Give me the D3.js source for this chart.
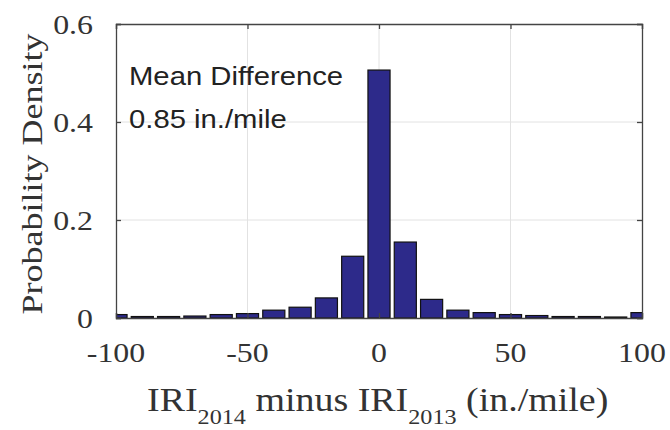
<!DOCTYPE html>
<html>
<head>
<meta charset="utf-8">
<script src="https://cdn.jsdelivr.net/npm/d3@7"></script>
<style>
  body { margin: 0; background: #fff; }
  svg { display: block; }
</style>
</head>
<body>
<svg id="chart" width="670" height="430"></svg>
<script>
// bin centres (in./mile) and probability density
const binCenters = [-100, -90, -80, -70, -60, -50, -40, -30, -20, -10, 0, 10, 20, 30, 40, 50, 60, 70, 80, 90, 100]
const density = [0.007, 0.003, 0.003, 0.004, 0.007, 0.009, 0.016, 0.022, 0.041, 0.126, 0.506, 0.155, 0.038, 0.016, 0.011, 0.007, 0.005, 0.003, 0.003, 0.002, 0.011]
const xTicks = [-100, -50, 0, 50, 100]
const yTicks = [0, 0.2, 0.4, 0.6]
const noteLines = ["Mean Difference", "0.85 in./mile"]

const binWidth = 10
const svg = d3.select("#chart")
const plotL = 116, plotR = 642, plotT = 24, plotB = 318
const stretch = 1.18

const x = d3.scaleLinear().domain([-100, 100]).range([plotL, plotR])
const y = d3.scaleLinear().domain([0, 0.6]).range([plotB, plotT])

// widen glyphs a bit like the source picture
const widen = (sel, k) => sel.each(function () {
  const w = this.getComputedTextLength()
  d3.select(this).attr("textLength", w * k).attr("lengthAdjust", "spacingAndGlyphs")
})

svg.append("defs").append("clipPath").attr("id", "plot-clip")
  .append("rect").attr("x", plotL).attr("y", plotT).attr("width", plotR - plotL).attr("height", plotB - plotT)

// grid
const grid = svg.append("g").attr("stroke", "#e2e2e2").attr("stroke-width", 1)
grid.selectAll(".gx").data(xTicks.slice(1, -1)).join("line")
  .attr("x1", d => x(d)).attr("x2", d => x(d)).attr("y1", plotT).attr("y2", plotB)
grid.selectAll(".gy").data(yTicks.slice(1, -1)).join("line")
  .attr("y1", d => y(d)).attr("y2", d => y(d)).attr("x1", plotL).attr("x2", plotR)

// bars
svg.append("g").attr("clip-path", "url(#plot-clip)")
  .selectAll("rect").data(binCenters).join("rect")
  .attr("x", d => x(d - binWidth * 0.42))
  .attr("width", x(binWidth * 0.84) - x(0))
  .attr("y", (d, i) => y(density[i]))
  .attr("height", (d, i) => y(0) - y(density[i]))
  .attr("fill", "#2d2a8a")
  .attr("stroke", "#111")
  .attr("stroke-width", 1.2)

// axes (box with inward ticks)
const xAxisB = d3.axisBottom(x).tickValues(xTicks).tickSize(-5).tickFormat("")
const xAxisT = d3.axisTop(x).tickValues(xTicks).tickSize(-5).tickFormat("")
const yAxisL = d3.axisLeft(y).tickValues(yTicks).tickSize(-5).tickFormat("")
const yAxisR = d3.axisRight(y).tickValues(yTicks).tickSize(-5).tickFormat("")
const axes = [
  [xAxisB, `translate(0,${plotB})`],
  [xAxisT, `translate(0,${plotT})`],
  [yAxisL, `translate(${plotL},0)`],
  [yAxisR, `translate(${plotR},0)`]
]
axes.forEach(([ax, tr]) => {
  const g = svg.append("g").attr("transform", tr).call(ax)
  g.selectAll("path,line").attr("stroke", "#444").attr("stroke-width", 1.3)
})

// tick labels
svg.append("g").selectAll("text").data(xTicks).join("text")
  .attr("x", d => x(d)).attr("y", 362)
  .attr("text-anchor", "middle")
  .attr("font-family", "Liberation Serif, Times New Roman, serif")
  .attr("font-size", 27).attr("fill", "#333")
  .text(d => d)
  .call(widen, stretch)

svg.append("g").selectAll("text").data(yTicks).join("text")
  .attr("x", 93).attr("y", d => y(d) + 10)
  .attr("text-anchor", "end")
  .attr("font-family", "Liberation Serif, Times New Roman, serif")
  .attr("font-size", 27).attr("fill", "#333")
  .text(d => d)
  .call(widen, stretch)

// axis titles
svg.append("text")
  .attr("transform", `translate(42,${(plotT + plotB) / 2 + 3}) rotate(-90)`)
  .attr("text-anchor", "middle")
  .attr("font-family", "Liberation Serif, Times New Roman, serif")
  .attr("font-size", 30).attr("fill", "#333")
  .text("Probability Density")
  .call(widen, 1.2)

const xt = svg.append("text")
  .attr("x", 147).attr("y", 411)
  .attr("font-family", "Liberation Serif, Times New Roman, serif")
  .attr("font-size", 33).attr("fill", "#333")
const titleParts = [["IRI", 0], ["2014", 1], [" minus IRI", 0], ["2013", 1], [" (in./mile)", 0]]
let prevSub = 0
titleParts.forEach(([t, sub]) => {
  xt.append("tspan")
    .attr("dy", sub ? 13 : (prevSub ? -13 : 0))
    .attr("font-size", sub ? 21 : 33)
    .text(t)
  prevSub = sub
})
xt.call(widen, 1.15)

// annotation
svg.append("g").selectAll("text").data(noteLines).join("text")
  .attr("x", 129).attr("y", (d, i) => 85 + i * 43)
  .attr("font-family", "Liberation Sans, Arial, sans-serif")
  .attr("font-size", 25).attr("fill", "#222")
  .text(d => d)
  .call(widen, 1.17)
</script>
</body>
</html>
